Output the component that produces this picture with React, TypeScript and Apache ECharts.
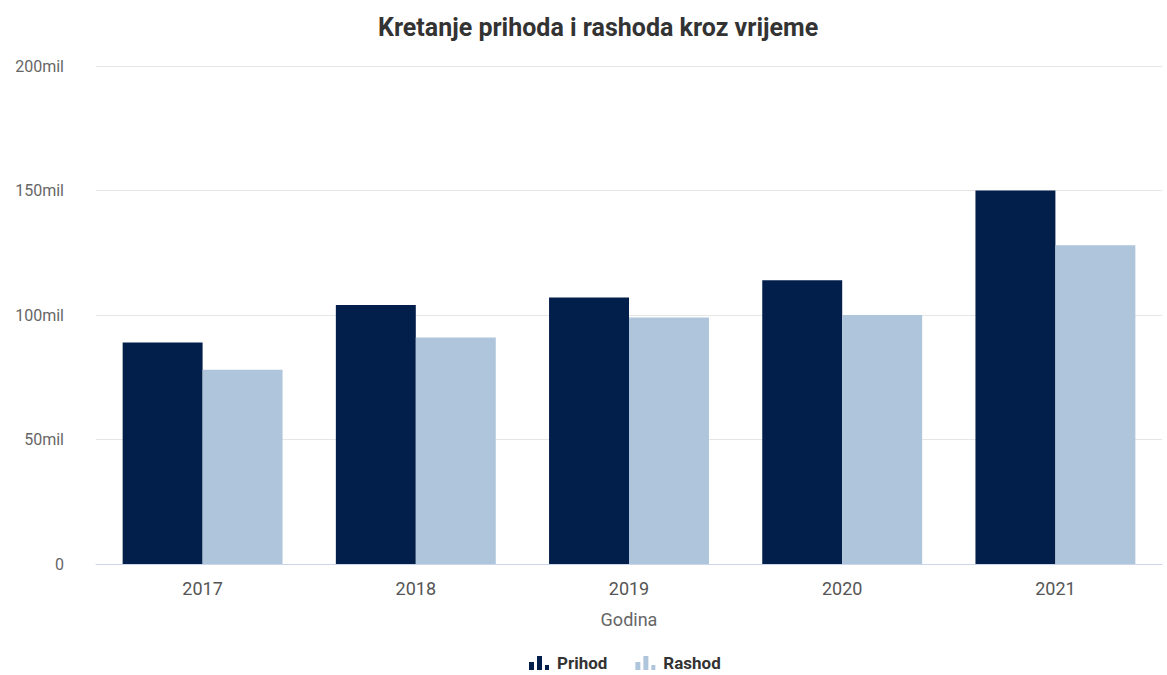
import React, { useEffect, useRef } from "react";
import * as echarts from "echarts";

const categories = ["2017", "2018", "2019", "2020", "2021"];
const prihod = [89, 104, 107, 114, 150];
const rashod = [78, 91, 99, 100, 128];
const yTicks = [0, 50, 100, 150, 200];

const ICON = "path://M0,6h5v8h-5z M8,0h5v14h-5z M16,9h4v5h-4z";

export default function App() {
  const ref = useRef<HTMLDivElement>(null);
  useEffect(() => {
    if (!ref.current) return;
    const chart = echarts.init(ref.current, null, { renderer: "svg" });
    chart.setOption({
      animation: false,
      backgroundColor: "#ffffff",
      textStyle: { fontFamily: "Roboto, 'Noto Sans', sans-serif" },
      title: {
        text: "Kretanje prihoda i rashoda kroz vrijeme",
        left: 373,
        top: 10,
        textStyle: { fontSize: 25, fontWeight: "bold", color: "#333333", fontFamily: "Roboto" },
      },
      legend: {
        top: 648,
        left: 524,
        itemWidth: 20,
        itemHeight: 14,
        itemGap: 28,
        textStyle: {
          fontSize: 17,
          fontWeight: "bold",
          color: "#333333",
          fontFamily: "Roboto",
          lineHeight: 20,
          padding: [0, 0, 0, 3],
        },
        data: [
          { name: "Prihod", icon: ICON },
          { name: "Rashod", icon: ICON },
        ],
      },
      grid: { left: 96, right: 5, top: 66, bottom: 111 },
      xAxis: {
        type: "category",
        data: categories,
        name: "Godina",
        nameLocation: "middle",
        nameGap: 46,
        nameTextStyle: { fontSize: 18, color: "#666666", fontFamily: "Roboto" },
        axisTick: { show: false },
        axisLine: { lineStyle: { color: "#ccd6eb" } },
        axisLabel: { fontSize: 18, color: "#555555", margin: 15, fontFamily: "Roboto" },
      },
      yAxis: {
        type: "value",
        min: yTicks[0],
        max: yTicks[yTicks.length - 1],
        interval: 50,
        axisLabel: {
          fontSize: 16,
          color: "#666666",
          margin: 32,
          fontFamily: "Roboto",
          formatter: (v: number) => (v === 0 ? "0" : v + "mil"),
        },
        splitLine: { lineStyle: { color: "#e6e6e6" } },
      },
      series: [
        {
          name: "Prihod",
          type: "bar",
          data: prihod,
          itemStyle: { color: "#021f4b" },
          barGap: "0%",
          barCategoryGap: "25%",
        },
        {
          name: "Rashod",
          type: "bar",
          data: rashod,
          itemStyle: { color: "#aec5db" },
          barGap: "0%",
          barCategoryGap: "25%",
        },
      ],
    });
    return () => chart.dispose();
  }, []);
  return (
    <div
      ref={ref}
      style={{ position: "absolute", left: 0, top: 0, width: 1167, height: 675 }}
    />
  );
}
